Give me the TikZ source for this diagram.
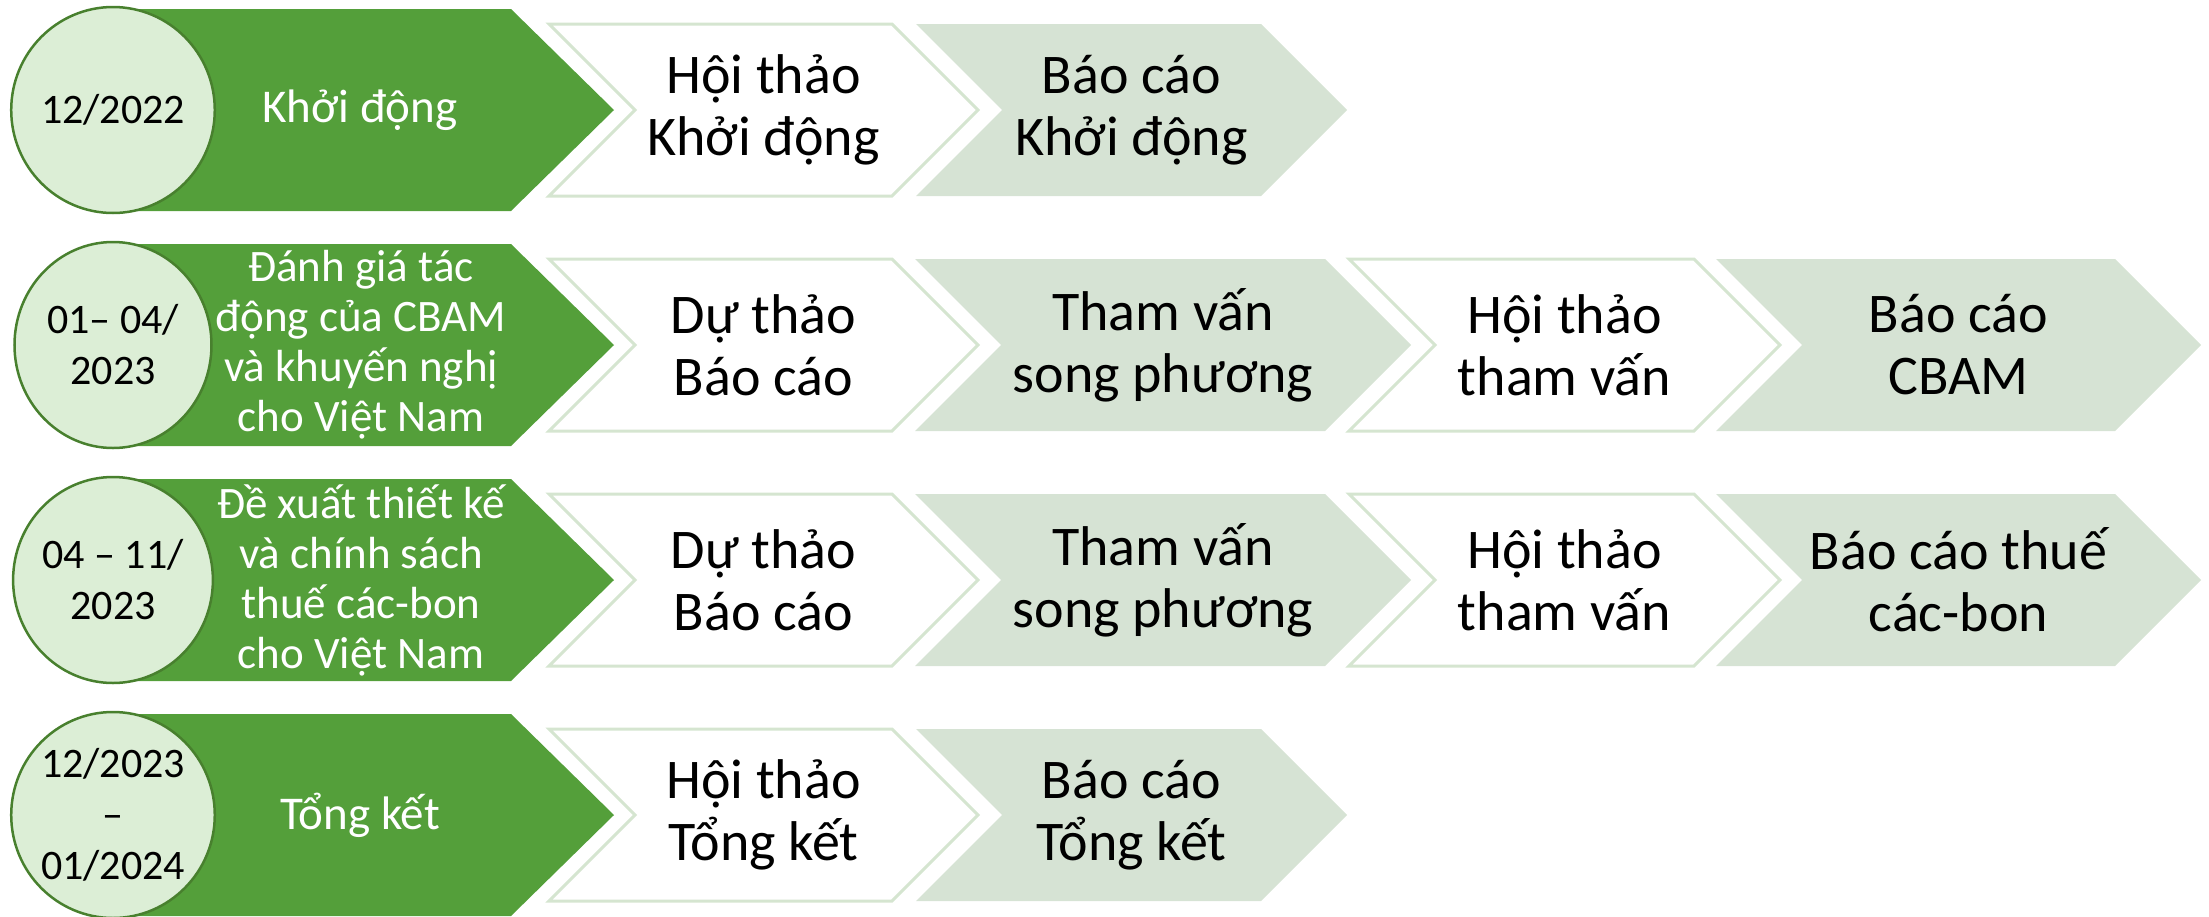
\documentclass[tikz,border=0pt]{standalone}
\usepackage{fontspec}
\setmainfont{Carlito}
\usetikzlibrary{shapes.geometric}
\definecolor{gfill}{RGB}{84,159,58}
\definecolor{cfill}{RGB}{220,238,214}
\definecolor{cline}{RGB}{72,128,46}
\definecolor{sage}{RGB}{214,227,212}
\definecolor{wline}{RGB}{213,229,208}
\tikzset{
  whitechev/.style={fill=white, draw=wline, line width=3pt, line join=miter},
  sagechev/.style={fill=sage},
  phaseshape/.style={fill=gfill},
  datecirc/.style={ellipse, fill=cfill, draw=cline, line width=2.5pt, minimum width=197pt, minimum height=206pt, inner sep=0pt, align=center, font=\fontsize{42}{51}\selectfont},
  steptext/.style={align=center, font=\fontsize{56}{62}\selectfont, text=black},
  phasetext/.style={align=center, font=\fontsize{47}{50}\selectfont, text=white},
  phasetextsm/.style={phasetext, font=\fontsize{45}{50}\selectfont},
}
\newcommand\chevpath[4]{%
  \path[#4] (#1,#3-86) -- (#2-86,#3-86) -- (#2,#3) -- (#2-86,#3+86) -- (#1,#3+86) -- (#1+86,#3) -- cycle;}
\newcommand\phasepath[1]{%
  \path[phaseshape] (113,#1-101) -- (511,#1-101) -- (614,#1) -- (511,#1+101) -- (113,#1+101) -- cycle;}
\begin{document}
\begin{tikzpicture}[x=1pt,y=-1pt]
\useasboundingbox (0,0) rectangle (2209,916);
% Row 1
\phasepath{110}
\node[datecirc] (d1) at (113,110) {12/2022};
\node[phasetext] (p1) at (360,110) {Khởi động};
\chevpath{549}{978}{110}{whitechev}
\node[steptext] (r1a) at (763.5,110) {Hội thảo\\Khởi động};
\chevpath{916}{1347}{110}{sagechev}
\node[steptext] (r1b) at (1131.5,110) {Báo cáo\\Khởi động};
% Row 2
\phasepath{345}
\node[datecirc] (d2) at (113,345) {01– 04/\\2023};
\node[phasetextsm] (p2) at (361,345) {Đánh giá tác\\động của CBAM\\và khuyến nghị\\cho Việt Nam};
\chevpath{549}{978}{345}{whitechev}
\node[steptext] (r2a) at (763.5,345) {Dự thảo\\Báo cáo};
\chevpath{915}{1411}{345}{sagechev}
\node[steptext] (r2b) at (1163,345) {Tham vấn\\song phương};
\chevpath{1349}{1780}{345}{whitechev}
\node[steptext] (r2c) at (1564.5,345) {Hội thảo\\tham vấn};
\chevpath{1716}{2201}{345}{sagechev}
\node[steptext] (r2d) at (1958.5,345) {Báo cáo\\CBAM};
% Row 3
\phasepath{580}
\node[datecirc] (d3) at (113,580) {04 – 11/\\2023};
\node[phasetextsm] (p3) at (361,580) {Đề xuất thiết kế\\và chính sách\\thuế các-bon\\cho Việt Nam};
\chevpath{549}{978}{580}{whitechev}
\node[steptext] (r3a) at (763.5,580) {Dự thảo\\Báo cáo};
\chevpath{915}{1411}{580}{sagechev}
\node[steptext] (r3b) at (1163,580) {Tham vấn\\song phương};
\chevpath{1349}{1780}{580}{whitechev}
\node[steptext] (r3c) at (1564.5,580) {Hội thảo\\tham vấn};
\chevpath{1716}{2201}{580}{sagechev}
\node[steptext] (r3d) at (1958.5,580) {Báo cáo thuế\\các-bon};
% Row 4
\phasepath{815}
\node[datecirc] (d4) at (113,815) {12/2023\\–\\01/2024};
\node[phasetext] (p4) at (360,815) {Tổng kết};
\chevpath{549}{978}{815}{whitechev}
\node[steptext] (r4a) at (763.5,815) {Hội thảo\\Tổng kết};
\chevpath{916}{1347}{815}{sagechev}
\node[steptext] (r4b) at (1131.5,815) {Báo cáo\\Tổng kết};
\end{tikzpicture}
\end{document}
